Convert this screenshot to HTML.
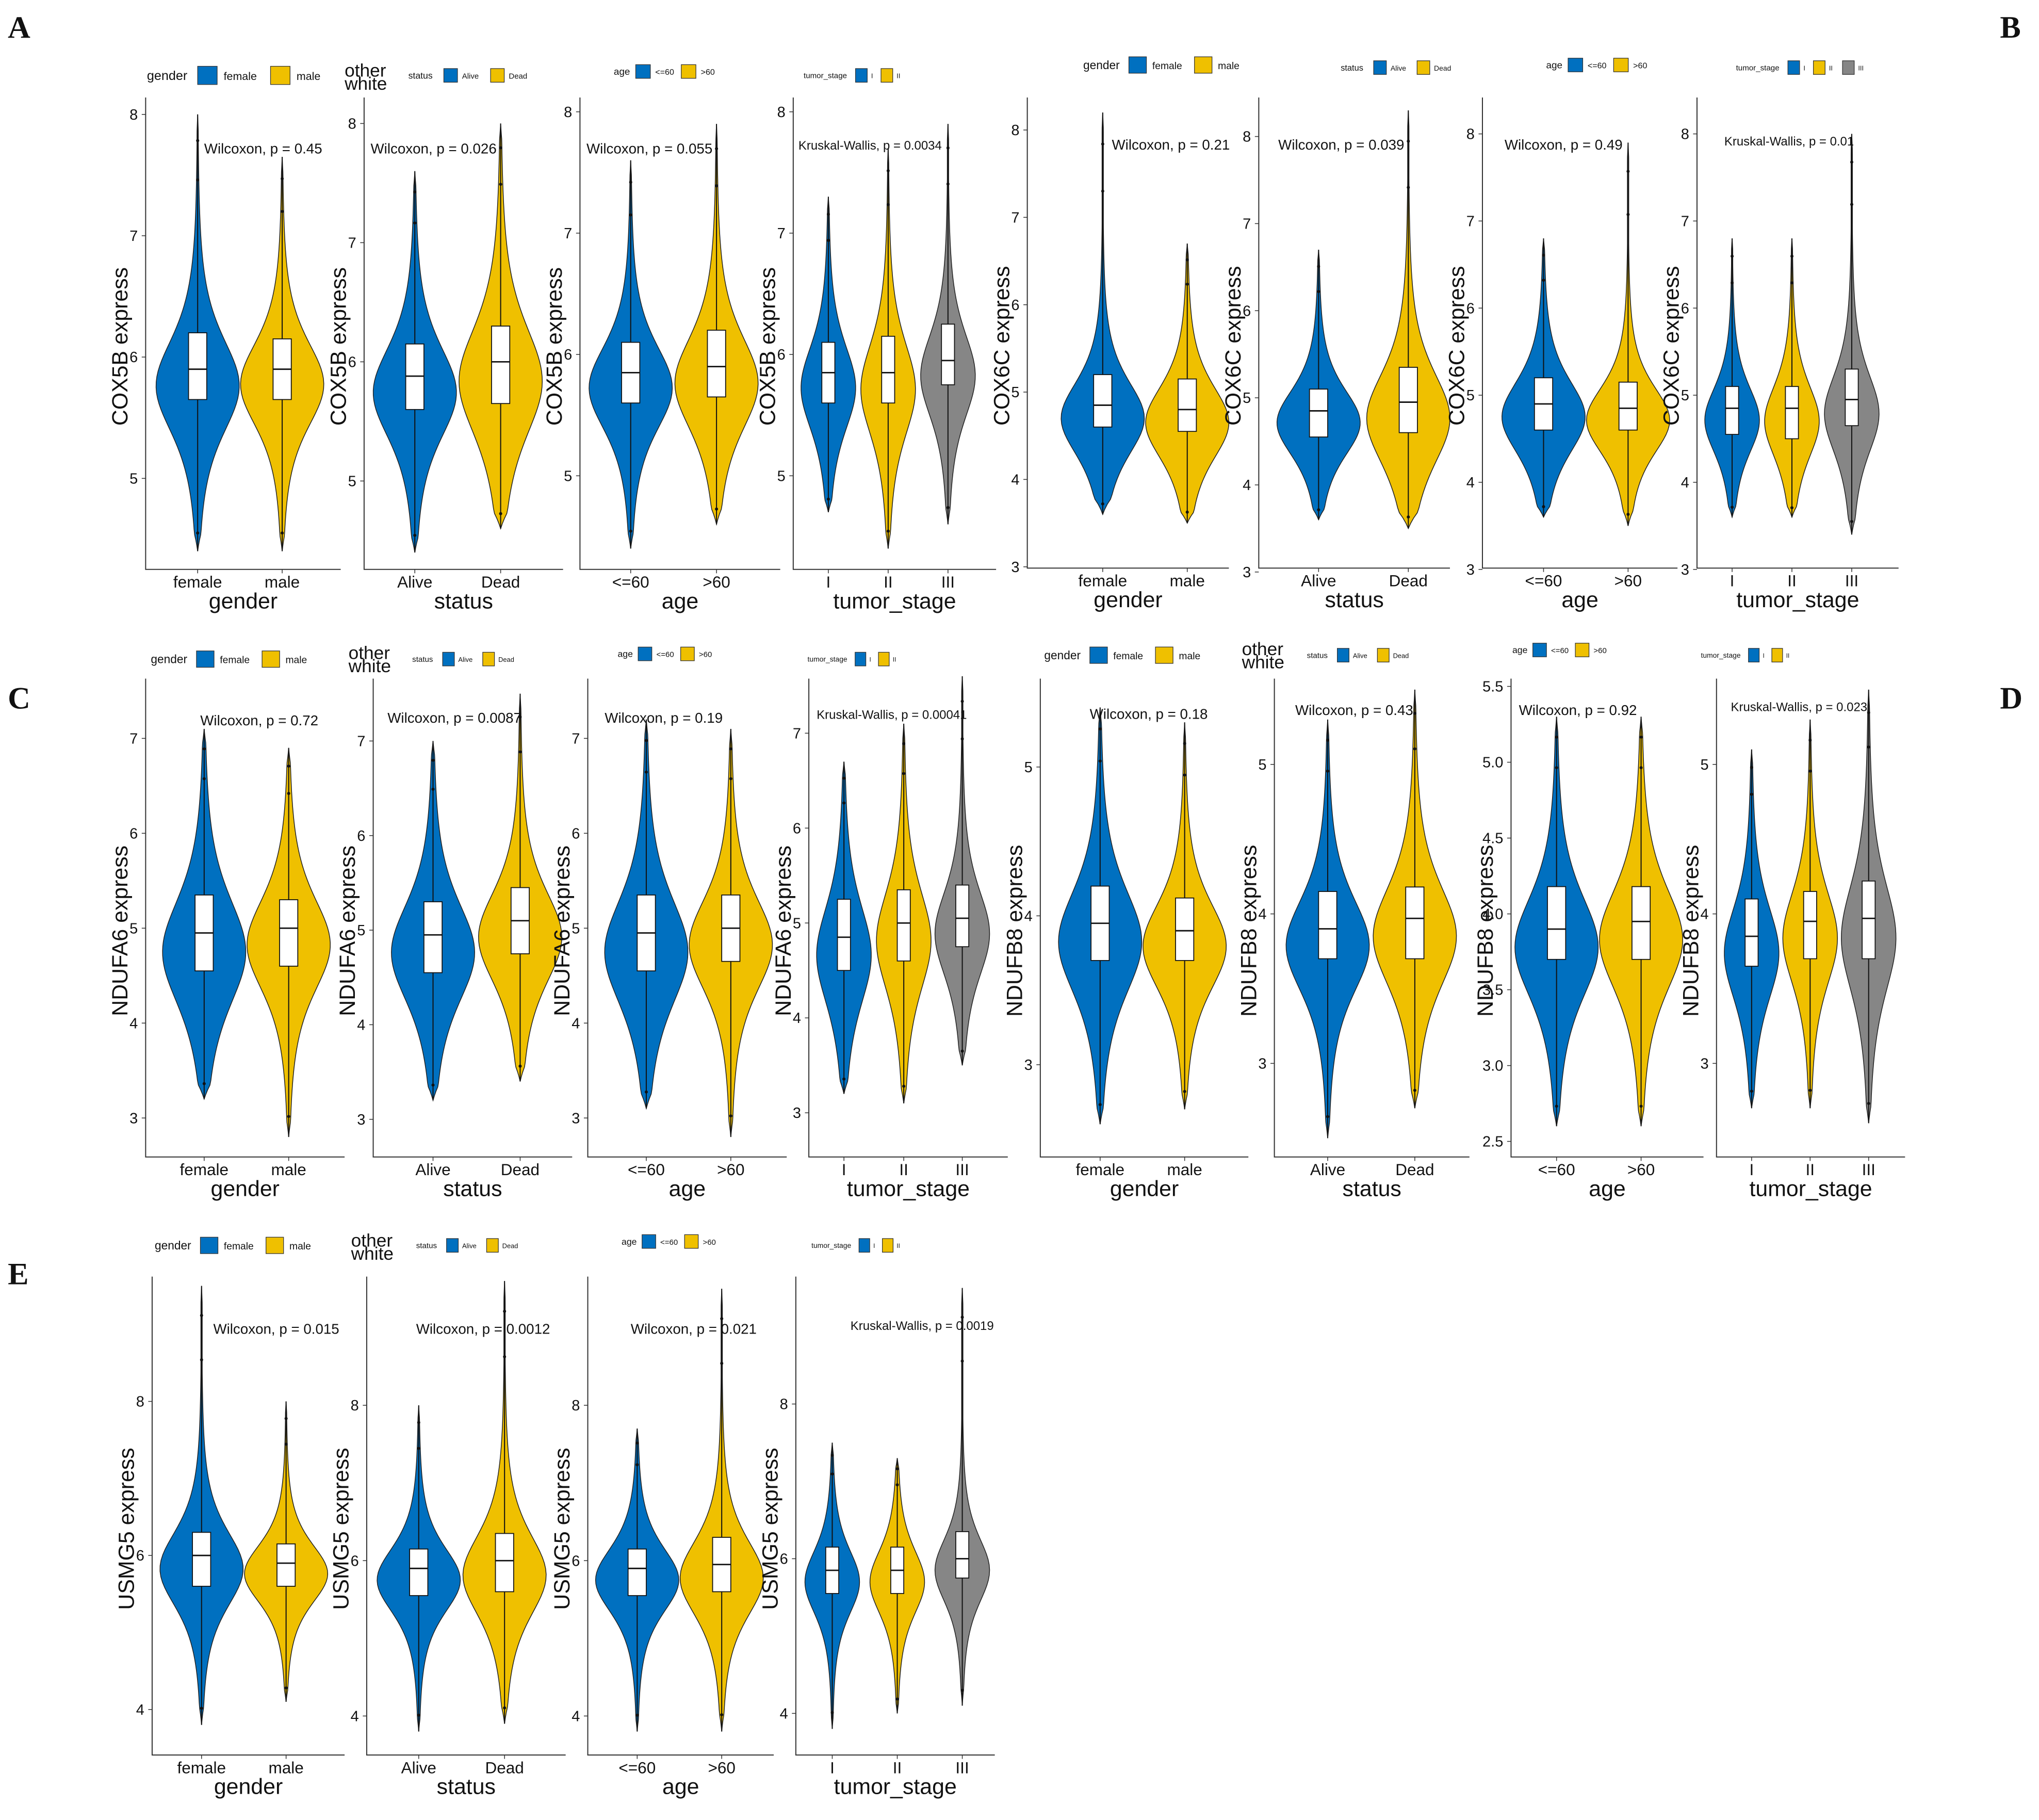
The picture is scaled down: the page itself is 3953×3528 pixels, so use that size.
<!DOCTYPE html>
<html><head><meta charset="utf-8">
<style>
html,body{margin:0;padding:0;background:#fff;}
svg{display:block;}
text{font-family:"Liberation Sans",sans-serif;fill:#111;}
</style></head>
<body>
<svg id="fig" width="3953" height="3528" viewBox="0 0 1568 1400" preserveAspectRatio="none" xmlns="http://www.w3.org/2000/svg">
<rect x="0" y="0" width="1568" height="1400" fill="#fff"/>
<text x="6" y="29" style="font-family:'Liberation Serif',serif;font-weight:bold;font-size:24px">A</text>
<text x="1538" y="29" style="font-family:'Liberation Serif',serif;font-weight:bold;font-size:24px">B</text>
<text x="6" y="545" style="font-family:'Liberation Serif',serif;font-weight:bold;font-size:24px">C</text>
<text x="1538" y="545" style="font-family:'Liberation Serif',serif;font-weight:bold;font-size:24px">D</text>
<text x="6" y="988" style="font-family:'Liberation Serif',serif;font-weight:bold;font-size:24px">E</text>
</svg>
<script>
// ---- data ----
const genes = ["COX5B","COX5B","COX5B","COX5B","COX6C","COX6C","COX6C","COX6C","NDUFA6","NDUFA6","NDUFA6","NDUFA6","NDUFB8","NDUFB8","NDUFB8","NDUFB8","USMG5","USMG5","USMG5","USMG5"];
const groupVars = ["gender","status","age","tumor_stage","gender","status","age","tumor_stage","gender","status","age","tumor_stage","gender","status","age","tumor_stage","gender","status","age","tumor_stage"];
const catsGender = ["female","male"];
const catsStatus = ["Alive","Dead"];
const catsAge = ["<=60",">60"];
const catsStage = ["I","II","III"];
const pTexts = ["Wilcoxon,  p = 0.45","Wilcoxon, p = 0.026","Wilcoxon, p = 0.055","Kruskal-Wallis, p = 0.0034",
"Wilcoxon, p = 0.21","Wilcoxon, p = 0.039","Wilcoxon, p = 0.49","Kruskal-Wallis, p = 0.01",
"Wilcoxon, p = 0.72","Wilcoxon, p = 0.0087","Wilcoxon, p = 0.19","Kruskal-Wallis, p = 0.00041",
"Wilcoxon, p = 0.18","Wilcoxon, p = 0.43","Wilcoxon, p = 0.92","Kruskal-Wallis, p = 0.023",
"Wilcoxon, p = 0.015","Wilcoxon, p = 0.0012","Wilcoxon, p = 0.021","Kruskal-Wallis, p = 0.0019"];
const tickSets = [[5,6,7,8],[5,6,7,8],[5,6,7,8],[5,6,7,8],[3,4,5,6,7,8],[3,4,5,6,7,8],[3,4,5,6,7,8],[3,4,5,6,7,8],
[3,4,5,6,7],[3,4,5,6,7],[3,4,5,6,7],[3,4,5,6,7],[3,4,5],[3,4,5],[2.5,3.0,3.5,4.0,4.5,5.0,5.5],[3,4,5],[4,6,8],[4,6,8],[4,6,8],[4,6,8]];
const legendCounts = [2,2,2,2,2,2,2,3,2,2,2,2,2,2,2,2,2,2,2,2];
// per-violin summary stats [min, q1, median, q3, max]
const mins = [[4.4,4.4],[4.4,4.6],[4.4,4.6],[4.7,4.4,4.6],[3.6,3.5],[3.6,3.5],[3.6,3.5],[3.6,3.6,3.4],[3.2,2.8],[3.2,3.4],[3.1,2.8],[3.2,3.1,3.5],[2.6,2.7],[2.5,2.7],[2.6,2.6],[2.7,2.7,2.6],[3.8,4.1],[3.8,3.9],[3.8,3.8],[3.8,4.0,4.1]];
const q1s = [[5.65,5.65],[5.6,5.65],[5.6,5.65],[5.6,5.6,5.75],[4.6,4.55],[4.55,4.6],[4.6,4.6],[4.55,4.5,4.65],[4.55,4.6],[4.55,4.75],[4.55,4.65],[4.5,4.6,4.75],[3.7,3.7],[3.7,3.7],[3.7,3.7],[3.65,3.7,3.7],[5.6,5.6],[5.55,5.6],[5.55,5.6],[5.55,5.55,5.75]];
const meds = [[5.9,5.9],[5.88,6.0],[5.85,5.9],[5.85,5.85,5.95],[4.85,4.8],[4.85,4.95],[4.9,4.85],[4.85,4.85,4.95],[4.95,5.0],[4.95,5.1],[4.95,5.0],[4.85,5.0,5.05],[3.95,3.9],[3.9,3.97],[3.9,3.95],[3.85,3.95,3.97],[6.0,5.9],[5.9,6.0],[5.9,5.95],[5.85,5.85,6.0]];
const q3s = [[6.2,6.15],[6.15,6.3],[6.1,6.2],[6.1,6.15,6.25],[5.2,5.15],[5.1,5.35],[5.2,5.15],[5.1,5.1,5.3],[5.35,5.3],[5.3,5.45],[5.35,5.35],[5.25,5.35,5.4],[4.2,4.12],[4.15,4.18],[4.18,4.18],[4.1,4.15,4.22],[6.3,6.15],[6.15,6.35],[6.15,6.3],[6.15,6.15,6.35]];
const maxs = [[8.0,7.65],[7.6,8.0],[7.6,7.9],[7.3,7.7,7.9],[8.2,6.7],[6.7,8.3],[6.8,7.9],[6.8,6.8,8.0],[7.1,6.9],[7.0,7.5],[7.2,7.1],[6.7,7.1,7.6],[5.4,5.3],[5.3,5.5],[5.3,5.3],[5.1,5.3,5.5],[9.5,8.0],[8.0,9.6],[7.7,9.5],[7.5,7.3,9.5]];

// ---- layout (not data) ----
const panels = [
 {x0:112,x1:262,yb:438,yt:75,tk:[[5,368],[8,88]],cx:[152,217],lg:[113,58,1.0],pt:[157,118,11],other:0},
 {x0:280,x1:433,yb:438,yt:75,tk:[[5,370],[8,95]],cx:[319,385],lg:[314,58,0.7],pt:[285,118,11],other:[265,55]},
 {x0:446,x1:600,yb:438,yt:75,tk:[[5,366],[8,86]],cx:[485,551],lg:[472,55,0.75],pt:[451,118,11],other:0},
 {x0:610,x1:766,yb:438,yt:75,tk:[[5,366],[8,86]],cx:[637,683,729],lg:[618,58,0.6],pt:[614,115,9.5],other:0},
 {x0:790,x1:945,yb:437,yt:75,tk:[[3,436],[8,100]],cx:[848,913],lg:[833,50,0.9],pt:[855,115,11],other:0},
 {x0:968,x1:1115,yb:437,yt:75,tk:[[3,440],[8,105]],cx:[1014,1083],lg:[1031,52,0.65],pt:[983,115,11],other:0},
 {x0:1140,x1:1290,yb:437,yt:75,tk:[[3,438],[8,103]],cx:[1187,1252],lg:[1189,50,0.75],pt:[1157,115,11],other:0},
 {x0:1305,x1:1460,yb:437,yt:75,tk:[[3,438],[8,103]],cx:[1332,1378,1424],lg:[1335,52,0.6],pt:[1326,112,9.5],other:0},
 {x0:112,x1:265,yb:890,yt:522,tk:[[3,860],[7,568]],cx:[157,222],lg:[116,507,0.9],pt:[154,558,11],other:0},
 {x0:287,x1:440,yb:890,yt:522,tk:[[3,861],[7,570]],cx:[333,400],lg:[317,507,0.6],pt:[298,556,11],other:[268,503]},
 {x0:452,x1:605,yb:890,yt:522,tk:[[3,860],[7,568]],cx:[497,562],lg:[475,503,0.7],pt:[465,556,11],other:0},
 {x0:622,x1:775,yb:890,yt:522,tk:[[3,856],[7,564]],cx:[649,695,740],lg:[621,507,0.55],pt:[628,553,9.5],other:0},
 {x0:800,x1:960,yb:890,yt:522,tk:[[3,819],[5,590]],cx:[846,911],lg:[803,504,0.9],pt:[838,553,11],other:0},
 {x0:980,x1:1130,yb:890,yt:522,tk:[[3,818],[5,588]],cx:[1021,1088],lg:[1005,504,0.6],pt:[996,550,11],other:[955,500]},
 {x0:1162,x1:1310,yb:890,yt:522,tk:[[2.5,878],[5.5,528]],cx:[1197,1262],lg:[1163,500,0.7],pt:[1168,550,11],other:0},
 {x0:1320,x1:1465,yb:890,yt:522,tk:[[3,818],[5,588]],cx:[1347,1392,1437],lg:[1308,504,0.55],pt:[1331,547,9.5],other:0},
 {x0:117,x1:265,yb:1350,yt:982,tk:[[4,1315],[8,1078]],cx:[155,220],lg:[119,958,0.9],pt:[164,1026,11],other:0},
 {x0:282,x1:435,yb:1350,yt:982,tk:[[4,1320],[8,1081]],cx:[322,388],lg:[320,958,0.6],pt:[320,1026,11],other:[270,955]},
 {x0:452,x1:595,yb:1350,yt:982,tk:[[4,1320],[8,1081]],cx:[490,555],lg:[478,955,0.7],pt:[485,1026,11],other:0},
 {x0:612,x1:765,yb:1350,yt:982,tk:[[4,1318],[8,1080]],cx:[640,690,740],lg:[624,958,0.55],pt:[654,1023,9.5],other:0}
];
const COLORS = ["#0070C0","#EFC000","#868686"];
const svg = document.getElementById('fig');
const NS = "http://www.w3.org/2000/svg";
function mk(tag, attrs, parent){
  const e = document.createElementNS(NS, tag);
  for (const k in attrs) e.setAttribute(k, attrs[k]);
  (parent||svg).appendChild(e);
  return e;
}
function catsFor(v, n){
  if (v==="gender") return catsGender;
  if (v==="status") return catsStatus;
  if (v==="age") return catsAge;
  return catsStage.slice(0,n);
}
function tw(s, f){ return s.length*f*0.55; }

panels.forEach((P, i) => {
  const g = mk('g', {});
  
  
  const [a, b] = P.tk;
  const yScale = v => a[1] + (v - a[0]) * (b[1] - a[1]) / (b[0] - a[0]);
  const n = mins[i].length;
  const cats = catsFor(groupVars[i], n);
  const hwMax = n === 2 ? 32 : 21;
  const bw = n === 2 ? 14 : 10;
  for (let j = 0; j < n; j++) {
    const cx = P.cx[j];
    const mn = mins[i][j], mx = maxs[i][j], q1 = q1s[i][j], md = meds[i][j], q3 = q3s[i][j];
    const mode = md - (q3 - q1) * 0.25;
    const s = Math.max((q3 - q1) / 1.35, 0.05);
    const N = 80;
    const pts = [];
    for (let k = 0; k <= N; k++) {
      const v = mn + (mx - mn) * k / N;
      const z = (v - mode) / s;
      let w = hwMax * Math.pow(1 + z * z / 3.5, -2);
      const edge = Math.min(1, (v - mn) / ((mx - mn) * 0.04), (mx - v) / ((mx - mn) * 0.04));
      w = Math.max(w * Math.max(edge, 0), 0.5 * Math.max(edge,0));
      pts.push([v, w]);
    }
    let d = '';
    pts.forEach((p, k) => { d += (k ? 'L' : 'M') + (cx + p[1]).toFixed(2) + ',' + yScale(p[0]).toFixed(2); });
    for (let k = pts.length - 1; k >= 0; k--) d += 'L' + (cx - pts[k][1]).toFixed(2) + ',' + yScale(pts[k][0]).toFixed(2);
    d += 'Z';
    const vi = mk('path', {d: d, fill: COLORS[j], stroke: '#222', 'stroke-width': 0.6}, g);
    
    
    const wl = mk('line', {x1: cx, x2: cx, y1: yScale(mn), y2: yScale(mx), stroke: '#111', 'stroke-width': 0.8}, g);
    
    
    const bx = mk('rect', {x: cx - bw / 2, y: yScale(q3), width: bw, height: yScale(q1) - yScale(q3), fill: '#fff', stroke: '#111', 'stroke-width': 0.7}, g);
    
    
    const ml = mk('line', {x1: cx - bw / 2, x2: cx + bw / 2, y1: yScale(md), y2: yScale(md), stroke: '#111', 'stroke-width': 1.1}, g);
    
    
    [mn + (q1 - mn) * 0.12, mx - (mx - q3) * 0.12, mx - (mx - q3) * 0.3].forEach(v => {
      const c = mk('circle', {cx: cx, cy: yScale(v), r: 1.2, fill: '#111'}, g);
      
      
    });
    const xl = mk('text', {x: cx, y: P.yb + 14, 'text-anchor': 'middle', 'font-size': 12.5}, g);
    xl.textContent = cats[j];
    
    
    const xt = mk('line', {x1: cx, x2: cx, y1: P.yb, y2: P.yb + 3, stroke: '#333', 'stroke-width': 0.6}, g);
    
    
  }
  const ax = mk('path', {d: `M${P.x0},${P.yt}V${P.yb}H${P.x1}`, fill: 'none', stroke: '#333', 'stroke-width': 0.8}, g);
  
  
  tickSets[i].forEach(t => {
    const y = yScale(t);
    const tl = mk('line', {x1: P.x0 - 3, x2: P.x0, y1: y, y2: y, stroke: '#333', 'stroke-width': 0.6}, g);
    
    
    const tt = mk('text', {x: P.x0 - 6, y: y + 4, 'text-anchor': 'end', 'font-size': 11.5}, g);
    tt.textContent = (tickSets[i].some(v => v % 1) ? t.toFixed(1) : String(t));
    
    
  });
  const ym = (P.yt + P.yb) / 2 + 10;
  const yt = mk('text', {x: 0, y: 0, 'text-anchor': 'middle', 'font-size': 17, transform: `translate(${P.x0 - 14},${ym}) rotate(-90)`}, g);
  yt.textContent = genes[i] + ' express';
  
  
  const xtt = mk('text', {x: (P.x0 + P.x1) / 2, y: P.yb + 30, 'text-anchor': 'middle', 'font-size': 17}, g);
  xtt.textContent = groupVars[i];
  
  
  const pt = mk('text', {x: P.pt[0], y: P.pt[1], 'font-size': P.pt[2]}, g);
  pt.textContent = pTexts[i];
  
  
  const [lx, ly, sc] = P.lg;
  const f = 10 * sc;
  const lgG = mk('g', {}, g);
  
  
  const lt = mk('text', {x: lx, y: ly + f * 0.35, 'font-size': f}, lgG);
  lt.textContent = groupVars[i];
  
  
  let cxp = lx + tw(groupVars[i], f) + 6 * sc;
  const lcats = catsFor(groupVars[i], legendCounts[i]);
  for (let j = 0; j < legendCounts[i]; j++) {
    const r = mk('rect', {x: cxp, y: ly - 7 * Math.max(sc, 0.75), width: 15 * sc, height: 14 * Math.max(sc, 0.75), fill: COLORS[j], stroke: '#333', 'stroke-width': 0.5}, lgG);
    
    
    cxp += 15 * sc + 5 * sc;
    const et = mk('text', {x: cxp, y: ly + f * 0.35, 'font-size': f * 0.85}, lgG);
    et.textContent = lcats[j];
    
    
    cxp += tw(lcats[j], f * 0.85) + 8 * sc;
  }
  if (P.other) {
    const o1 = mk('text', {x: P.other[0], y: P.other[1] + 4, 'font-size': 14}, g);
    o1.textContent = 'other';
    
    
    const o2 = mk('text', {x: P.other[0], y: P.other[1] + 14, 'font-size': 14}, g);
    o2.textContent = 'white';
    
    
  }
});
</script>
</body></html>
